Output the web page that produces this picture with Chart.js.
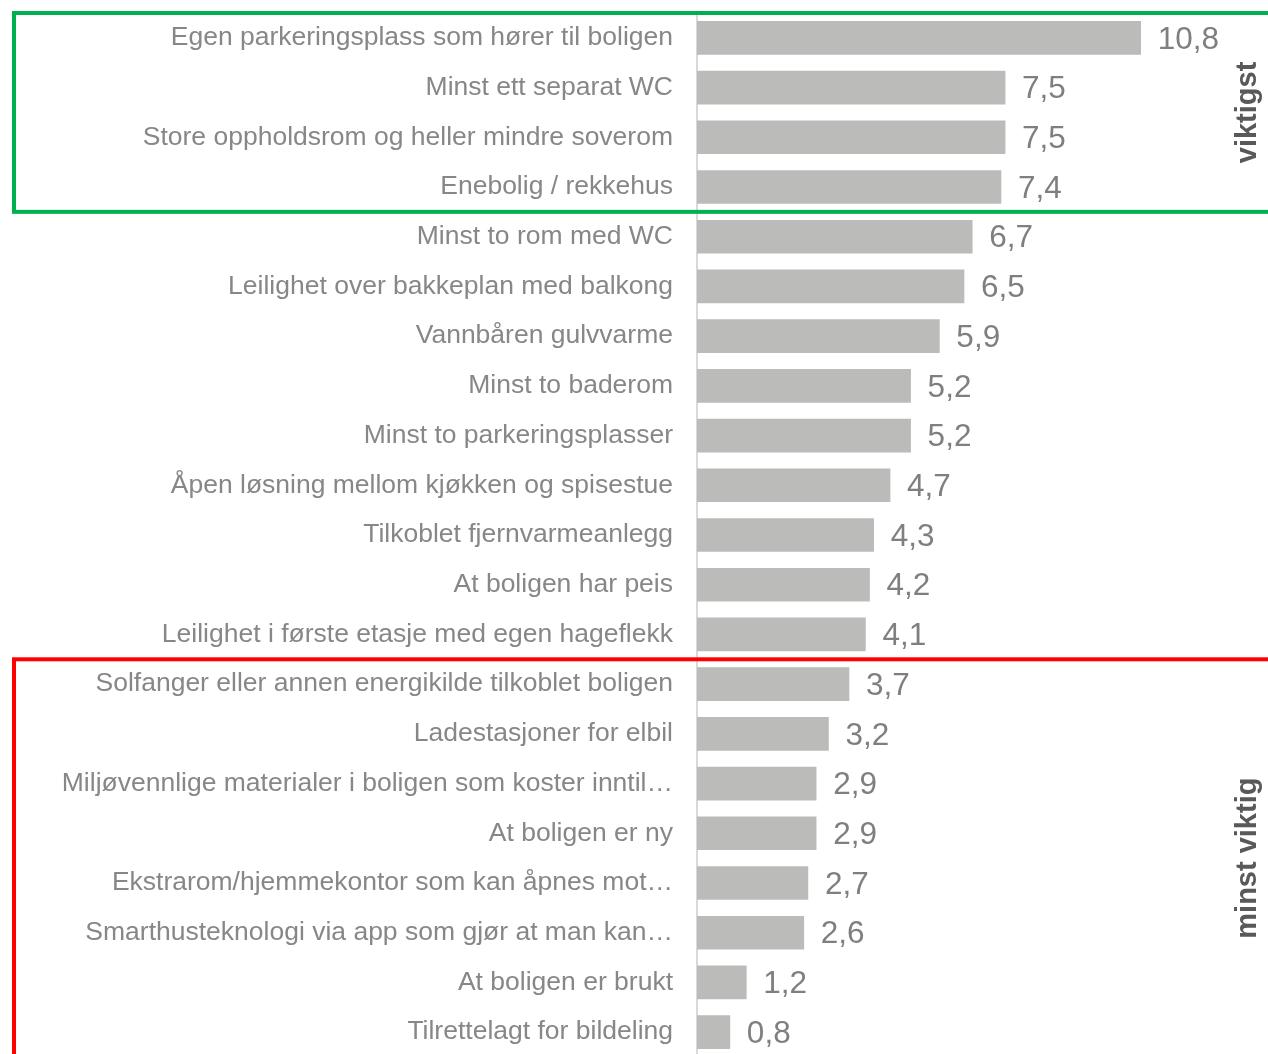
<!DOCTYPE html>
<html>
<head>
<meta charset="utf-8">
<script src="https://cdn.jsdelivr.net/npm/chart.js@4"></script>
<style>
    html, body { margin: 0; padding: 0; background: #fff; overflow: hidden; }
    #wrap { position: relative; width: 1268px; height: 1062px; }
</style>
</head>
<body>
<div id="wrap"><canvas id="chart"></canvas></div>
<script>
const categories = [
    'Egen parkeringsplass som hører til boligen',
    'Minst ett separat WC',
    'Store oppholdsrom og heller mindre soverom',
    'Enebolig / rekkehus',
    'Minst to rom med WC',
    'Leilighet over bakkeplan med balkong',
    'Vannbåren gulvvarme',
    'Minst to baderom',
    'Minst to parkeringsplasser',
    'Åpen løsning mellom kjøkken og spisestue',
    'Tilkoblet fjernvarmeanlegg',
    'At boligen har peis',
    'Leilighet i første etasje med egen hageflekk',
    'Solfanger eller annen energikilde tilkoblet boligen',
    'Ladestasjoner for elbil',
    'Miljøvennlige materialer i boligen som koster inntil…',
    'At boligen er ny',
    'Ekstrarom/hjemmekontor som kan åpnes mot…',
    'Smarthusteknologi via app som gjør at man kan…',
    'At boligen er brukt',
    'Tilrettelagt for bildeling'
];
const values = [10.8, 7.5, 7.5, 7.4, 6.7, 6.5, 5.9, 5.2, 5.2, 4.7, 4.3, 4.2, 4.1, 3.7, 3.2, 2.9, 2.9, 2.7, 2.6, 1.2, 0.8];

// groups framed on the chart: [first index, last index, colour, caption]
const groups = [
    [0, 3, '#00b050', 'viktigst'],
    [13, 20, '#ff0000', 'minst viktig']
];

const fmt = v => v.toFixed(1).replace('.', ',');

/**
 * Value labels right of each bar
 */
const valueLabels = {
    id: 'valueLabels',
    afterDatasetsDraw(chart) {
        const ctx = chart.ctx;
        const meta = chart.getDatasetMeta(0);
        ctx.save();
        ctx.font = '31.5px "Liberation Sans", Arial, sans-serif';
        ctx.fillStyle = '#7f7f7f';
        ctx.textAlign = 'left';
        ctx.textBaseline = 'middle';
        meta.data.forEach((bar, i) => {
            ctx.fillText(fmt(values[i]), bar.x + 17, bar.y + 2);
        });
        ctx.restore();
    }
};

/**
 * Coloured frames and rotated captions
 */
const groupFrames = {
    id: 'groupFrames',
    afterDraw(chart) {
        const ctx = chart.ctx;
        const y = chart.scales.y;
        const step = y.getPixelForValue(1) - y.getPixelForValue(0);
        ctx.save();
        groups.forEach(([first, last, color, caption]) => {
            const top = y.getPixelForValue(first) - step / 2;
            const bottom = y.getPixelForValue(last) + step / 2;
            ctx.strokeStyle = color;
            ctx.lineWidth = 4;
            ctx.strokeRect(14, top, chart.width + 20, bottom - top);

            ctx.save();
            ctx.translate(1248, (top + bottom) / 2);
            ctx.rotate(-Math.PI / 2);
            ctx.font = 'bold 29px "Liberation Sans", Arial, sans-serif';
            ctx.fillStyle = '#595959';
            ctx.textAlign = 'center';
            ctx.textBaseline = 'middle';
            ctx.fillText(caption, 0, 0);
            ctx.restore();
        });
        ctx.restore();
    }
};

new Chart(document.getElementById('chart'), {
    type: 'bar',
    data: {
        labels: categories,
        datasets: [{
            data: values,
            backgroundColor: '#bbbcba',
            borderWidth: 0,
            barThickness: 33
        }]
    },
    options: {
        indexAxis: 'y',
        responsive: true,
        maintainAspectRatio: false,
        animation: false,
        layout: { padding: { top: 13, bottom: 5, left: 0, right: 0 } },
        scales: {
            x: {
                display: false,
                min: 0,
                max: 13.9
            },
            y: {
                afterFit(scale) {
                    scale.width = 697;
                    scale.paddingTop = 0;
                    scale.paddingBottom = 0;
                },
                grid: { display: false, drawTicks: false },
                border: { display: true, color: '#d9d9d9', width: 2 },
                ticks: {
                    padding: 24,
                    color: '#878787',
                    font: { family: '"Liberation Sans", Arial, sans-serif', size: 26.5 }
                }
            }
        },
        plugins: {
            legend: { display: false },
            tooltip: { enabled: false }
        }
    },
    plugins: [valueLabels, groupFrames]
});
</script>
</body>
</html>
